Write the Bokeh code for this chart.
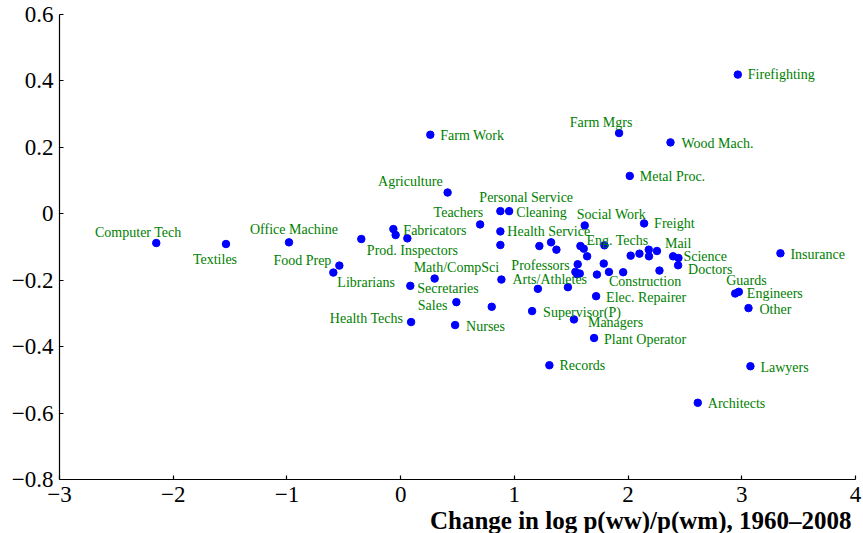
from bokeh.plotting import figure
from bokeh.models import Range1d, FixedTicker, Label, ColumnDataSource, Title
from bokeh.core.properties import value
from bokeh.embed import file_html
from bokeh.resources import INLINE

# ---------------- data ----------------
occupations = [
    "Computer Tech", "Textiles", "Office Machine", "Food Prep", "Librarians", "",
    "Fabricators", "", "Prod. Inspectors", "Secretaries", "Health Techs", "Farm Work",
    "Math/CompSci", "Agriculture", "Nurses", "Sales", "Teachers", "",
    "Personal Service", "Cleaning", "Health Service", "", "Arts/Athletes", "Supervisor(P)",
    "", "", "", "", "Records", "",
    "Managers", "Professors", "", "", "", "Eng. Techs",
    "", "", "Social Work", "Plant Operator", "Construction", "Elec. Repairer",
    "", "", "", "Farm Mgrs", "", "Metal Proc.",
    "", "", "Freight", "", "", "Mail",
    "", "Wood Mach.", "", "Science", "Doctors", "Architects",
    "Guards", "Engineers", "Firefighting", "Other", "Lawyers", "Insurance",
]
# change in log p(ww)/p(wm), 1960-2008
x_change = [
    -2.149, -1.536, -0.982, -0.539, -0.592, -0.346,
    -0.064, -0.044, 0.059, 0.085, 0.092, 0.261,
    0.299, 0.413, 0.479, 0.490, 0.699, 0.801,
    0.877, 0.954, 0.877, 0.877, 0.886, 1.156,
    1.207, 1.220, 1.323, 1.370, 1.308, 1.471,
    1.524, 1.557, 1.537, 1.575, 1.552, 1.581,
    1.610, 1.640, 1.619, 1.701, 1.726, 1.719,
    1.786, 1.792, 1.832, 1.921, 1.957, 2.015,
    2.023, 2.100, 2.141, 2.182, 2.184, 2.254,
    2.276, 2.373, 2.396, 2.443, 2.440, 2.613,
    2.942, 2.974, 2.965, 3.059, 3.076, 3.340,
]
# change in log wage gap, 1960-2008
y_change = [
    -0.088, -0.091, -0.086, -0.156, -0.177, -0.076,
    -0.046, -0.064, -0.074, -0.217, -0.326, 0.238,
    -0.195, 0.064, -0.335, -0.266, -0.032, -0.280,
    0.008, 0.008, -0.053, -0.094, -0.198, -0.293,
    -0.226, -0.097, -0.086, -0.108, -0.456, -0.221,
    -0.318, -0.152, -0.175, -0.180, -0.182, -0.097,
    -0.105, -0.128, -0.035, -0.374, -0.183, -0.248,
    -0.150, -0.095, -0.175, 0.243, -0.176, 0.114,
    -0.126, -0.120, -0.029, -0.108, -0.128, -0.112,
    -0.171, 0.215, -0.128, -0.133, -0.155, -0.569,
    -0.240, -0.235, 0.419, -0.284, -0.459, -0.119,
]

x_ticks = [-3, -2, -1, 0, 1, 2, 3, 4]
x_tick_labels = ["\u22123", "\u22122", "\u22121", "0", "1", "2", "3", "4"]
y_ticks = [-0.8, -0.6, -0.4, -0.2, 0, 0.2, 0.4, 0.6]
y_tick_labels = ["\u22120.8", "\u22120.6", "\u22120.4", "\u22120.2", "0", "0.2", "0.4", "0.6"]
x_title = "Change in log p(ww)/p(wm), 1960\u20132008"
y_title = "Change in log wage gap, 1960\u20132008"

# label placement (style): alignment, pixel offset right, pixel offset down
label_place = {
    "Computer Tech": ("center", -18, -11), "Textiles": ("center", -11, 15),
    "Office Machine": ("center", 5, -13), "Food Prep": ("right", -8, -5),
    "Librarians": ("left", 4, 10), "Fabricators": ("left", 10, 1),
    "Prod. Inspectors": ("center", 5, 12), "Secretaries": ("left", 7, 3),
    "Health Techs": ("right", -8, -4), "Farm Work": ("left", 10, 1),
    "Math/CompSci": ("left", -21, -11), "Agriculture": ("right", -5, -11),
    "Nurses": ("left", 11, 1), "Sales": ("right", -9, 3),
    "Teachers": ("right", 3, -12), "Personal Service": ("left", -21, -14),
    "Cleaning": ("left", 7, 1), "Health Service": ("left", 7, 0),
    "Arts/Athletes": ("left", 11, 0), "Supervisor(P)": ("left", 11, 1),
    "Records": ("left", 10, 0), "Managers": ("left", 14, 3),
    "Professors": ("right", -8, 1), "Eng. Techs": ("left", 6, -6),
    "Social Work": ("left", -8, -11), "Plant Operator": ("left", 10, 1),
    "Construction": ("left", 12, 7), "Elec. Repairer": ("left", 10, 1),
    "Farm Mgrs": ("center", -18, -11), "Metal Proc.": ("left", 10, 1),
    "Freight": ("left", 10, 0), "Mail": ("left", 8, -7),
    "Wood Mach.": ("left", 11, 1), "Science": ("left", 5, -1),
    "Doctors": ("left", 10, 4), "Architects": ("left", 10, 1),
    "Guards": ("left", -9, -13), "Engineers": ("left", 8, 2),
    "Firefighting": ("left", 10, 0), "Other": ("left", 11, 1),
    "Lawyers": ("left", 10, 1), "Insurance": ("left", 10, 1),
}

SERIF = "Liberation Serif"
TICK_FONT = "Liberation Serif, serif"

p = figure(width=863, height=533, output_backend="svg", toolbar_location=None,
           title=None, x_range=Range1d(-3, 4), y_range=Range1d(-0.8, 0.6),
           min_border_left=59, min_border_right=8, min_border_top=14,
           min_border_bottom=54, background_fill_color="white",
           border_fill_color="white")
p.outline_line_color = None
p.xgrid.visible = False
p.ygrid.visible = False

for ax, ticks, labels, standoff in ((p.xaxis, x_ticks, x_tick_labels, 7),
                                    (p.yaxis, y_ticks, y_tick_labels, 6)):
    ax.ticker = FixedTicker(ticks=ticks)
    ax.major_label_overrides = {t: lab for t, lab in zip(ticks, labels)}
    ax.axis_line_color = "black"
    ax.axis_line_width = 1.2
    ax.major_tick_line_color = "black"
    ax.major_tick_line_width = 1.2
    ax.major_tick_in = 4
    ax.major_tick_out = 0
    ax.minor_tick_line_color = None
    ax.major_label_text_font = TICK_FONT
    ax.major_label_text_font_style = "normal"
    ax.major_label_text_font_size = "23px"
    ax.major_label_text_color = "black"
    ax.major_label_standoff = standoff

# points
src = ColumnDataSource(dict(x=x_change, y=y_change, name=occupations))
p.scatter("x", "y", source=src, size=7.5, fill_color="#0000ff", line_color="#0000ff")

# labels, grouped by alignment
for align in ("left", "right", "center"):
    lx, ly, lt, dx, dy = [], [], [], [], []
    for name, xv, yv in zip(occupations, x_change, y_change):
        if name and label_place[name][0] == align:
            lx.append(xv); ly.append(yv); lt.append(name)
            dx.append(label_place[name][1]); dy.append(label_place[name][2])
    lsrc = ColumnDataSource(dict(x=lx, y=ly, text=lt, dx=dx, dy=dy))
    p.text(x="x", y="y", text="text", x_offset="dx", y_offset="dy", source=lsrc,
           text_align=align, text_baseline="middle", text_font=value(SERIF),
           text_font_size="14px", text_color="#008000")

# x axis title, right aligned under the tick labels
p.add_layout(Title(text=x_title, align="right", offset=4, standoff=0,
                   vertical_align="bottom", text_font=SERIF,
                   text_font_size="25px", text_font_style="bold",
                   text_color="black"), "below")

# y title (cut off by the top edge in the original)
p.add_layout(Label(x=-3, y=0.6, x_offset=-92, y_offset=15, text=y_title,
                   text_align="left", text_baseline="alphabetic",
                   text_font=SERIF, text_font_size="25px", text_font_style="bold",
                   text_color="black"))

open("out.html", "w").write(file_html(p, INLINE))
